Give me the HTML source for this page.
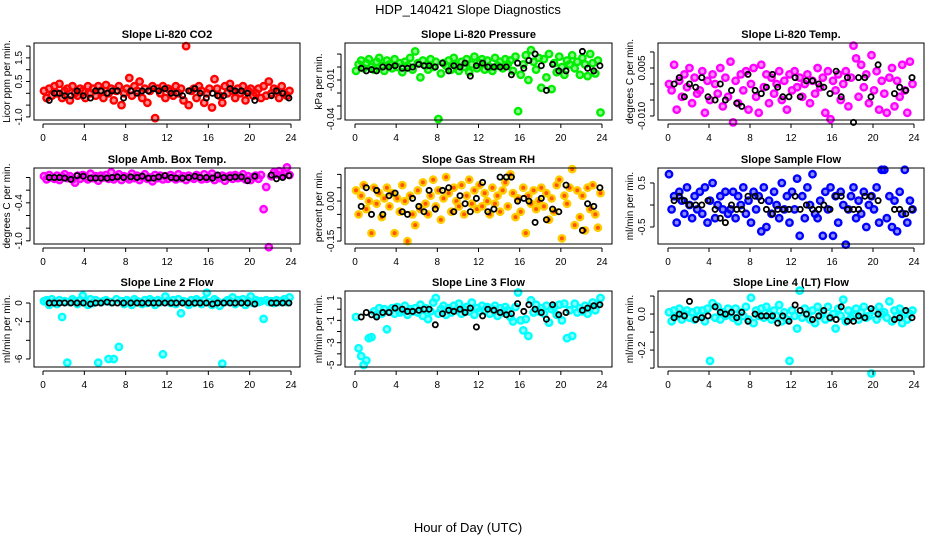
<!DOCTYPE html>
<html><head><meta charset="utf-8"><title>HDP_140421 Slope Diagnostics</title>
<style>
html,body{margin:0;padding:0;background:#fff;}
svg{display:block;font-family:"Liberation Sans",Arial,sans-serif;}
</style></head>
<body>
<svg id="chart" width="936" height="540" viewBox="0 0 936 540" xmlns="http://www.w3.org/2000/svg">
<rect x="0" y="0" width="936" height="540" fill="#fff"/>
<text x="468" y="14" text-anchor="middle" font-size="13">HDP_140421  Slope Diagnostics</text>
<text x="468" y="532" text-anchor="middle" font-size="13">Hour of Day (UTC)</text>
</svg>
<script>
// Shared measurement hours (colored series)
const hours = [0.1,0.35,0.6,0.85,1.1,1.35,1.6,1.85,2.1,2.35,2.6,2.85,
3.1,3.35,3.6,3.85,4.1,4.35,4.6,4.85,5.1,5.35,5.6,5.85,
6.1,6.35,6.6,6.85,7.1,7.35,7.6,7.85,8.1,8.35,8.6,8.85,
9.1,9.35,9.6,9.85,10.1,10.35,10.6,10.85,11.1,11.35,11.6,11.85,
12.1,12.35,12.6,12.85,13.1,13.35,13.6,13.85,14.1,14.35,14.6,14.85,
15.1,15.35,15.6,15.85,16.1,16.35,16.6,16.85,17.1,17.35,17.6,17.85,
18.1,18.35,18.6,18.85,19.1,19.35,19.6,19.85,20.1,20.35,20.6,20.85,
21.1,21.35,21.6,21.85,22.1,22.35,22.6,22.85,23.1,23.35,23.6,23.85];
// Hours of the black (hourly summary) series
const blackHours = [0.6,1.1,1.6,2.1,2.7,3.3,3.9,4.6,5.1,5.6,6.2,6.7,7.2,7.8,8.5,9.1,9.6,10.2,10.7,11.2,
11.8,12.4,12.9,13.5,14.1,14.7,15.2,15.8,16.4,16.9,17.5,18.1,18.6,19.2,19.8,20.5,22.1,22.6,23.2,23.8];
const xTicks = [0,4,8,12,16,20,24];

// Panel 1: Li-820 CO2 (ppm/min)
const co2Values = [0.1,-0.2,0.2,-0.1,0.3,0.0,0.4,-0.2,0.1,0.2,-0.3,0.3,
0.0,-0.1,0.2,0.1,-0.2,0.3,0.0,0.2,-0.1,0.3,0.1,-0.2,
0.35,0.0,0.2,-0.3,0.1,0.3,-0.5,0.0,0.2,0.65,-0.1,0.3,
0.1,0.5,-0.2,0.2,-0.4,0.1,0.3,-1.05,0.2,0.0,0.3,-0.2,
0.2,0.1,-0.1,0.3,0.0,0.2,-0.3,2.0,-0.5,0.1,0.2,-0.2,
0.3,0.1,-0.4,0.0,0.2,-0.6,0.6,0.2,-0.1,-0.4,0.3,0.0,
0.4,0.1,-0.2,0.2,0.0,0.3,-0.3,0.1,0.2,-0.1,0.0,0.2,
-0.2,0.3,-0.1,0.5,0.0,0.2,0.1,-0.2,0.3,0.0,-0.1,0.1];
const co2Black = [-0.3,0.0,0.0,-0.1,-0.1,0.1,-0.1,-0.2,0.1,0.1,0.0,0.1,0.1,-0.2,0.1,0.0,0.1,0.1,0.2,0.1,
0.2,0.0,0.0,-0.1,0.1,0.2,0.0,-0.2,0.0,-0.1,-0.1,0.2,0.1,0.1,0.0,-0.3,-0.1,0.1,0.0,-0.2];
const co2Ticks = [-1.0,-0.5,0,0.5,1.0,1.5,2.0];
const co2TickLabels = ["-1.0","","","0.5","","1.5",""];

// Panel 2: Li-820 Pressure (values in 0.001 kPa/min)
const pressUnit = 0.001;
const pressValues = [-3,2,5,-1,3,6,0,-2,4,7,1,-3,
5,2,-1,6,0,3,-4,4,1,7,-2,12,
3,-8,5,1,-2,6,0,4,-40,-5,3,1,
5,-2,7,1,-3,4,0,6,-4,2,8,-1,
3,6,-2,5,0,-3,7,1,4,-1,6,2,
5,-3,8,-34,-6,2,9,-10,13,4,-2,7,
-16,6,-8,10,-17,3,-4,8,0,-6,5,2,
9,-1,4,-6,7,2,-7,10,3,-5,5,-35];
const pressBlack = [-1,-3,-2,-3,0,0,1,-1,-1,0,2,1,1,0,3,-3,1,0,3,-7,
1,3,0,0,0,0,-6,3,-1,5,10,1,-18,2,-3,-3,12,-1,-3,1];
const pressTicks = [-0.04,-0.03,-0.02,-0.01,0,0.01];
const pressTickLabels = ["-0.04","","","-0.01","",""];

// Panel 3: Li-820 Temp (values in 0.001 C/min)
const tempUnit = 0.001;
const tempValues = [0,-2,6,-8,1,-4,3,-1,5,-6,2,-3,
-2,4,-9,1,-5,3,0,-3,5,-7,2,-4,
7,-12,1,-6,3,-2,4,-8,0,5,-4,-9,
6,-1,3,-6,2,-3,0,4,-5,1,-8,3,
-2,4,-1,2,-4,0,3,-6,1,-3,5,-1,
2,-9,4,-11,1,-2,3,-5,0,4,-7,2,
12,8,-4,6,-1,3,-6,9,-2,4,-8,1,
-3,-9,2,5,-7,1,-4,6,-2,-9,7,0];
const tempBlack = [0,2,-4,0,-1,2,-4,-5,0,-5,-2,-6,-7,3,-2,-3,-1,3,-1,-4,
-4,2,-4,1,1,0,-1,-3,4,-4,2,-12,2,2,-4,6,-3,-1,-2,2];
const tempTicks = [-0.010,-0.005,0,0.005,0.010];
const tempTickLabels = ["-0.010","","","0.005",""];

// Panel 4: Amb. Box Temp (values in 0.01 C/min)
const boxUnit = 0.01;
const boxValues = [2,-3,4,0,-2,3,-4,1,5,-1,2,-3,
-8,3,-2,4,0,-3,6,-1,2,-5,3,0,
4,-2,8,-3,1,5,-4,2,0,-3,6,-1,
3,-4,1,5,-2,0,-6,4,-1,3,-3,2,
-2,4,0,-3,5,-1,2,-4,3,0,-2,4,
1,-3,5,-2,0,6,-4,2,-1,3,-5,1,
3,-2,4,-1,0,5,-3,2,-4,1,3,-2,
4,-50,-15,-110,2,8,5,10,3,6,16,4];
const boxBlack = [0,0,0,-1,-3,3,2,-1,-1,-1,-1,0,1,0,1,0,2,-1,-1,1,
3,0,-1,-1,0,2,0,0,-1,4,0,0,1,1,-5,2,4,-2,0,3];
const boxTicks = [-1.0,-0.8,-0.6,-0.4,-0.2,0];
const boxTickLabels = ["-1.0","","","-0.4","",""];

// Panel 5: Gas Stream RH (values in 0.01 %/min)
const rhUnit = 0.01;
const rhValues = [4,-5,2,6,-3,0,-12,5,-1,3,-6,1,
5,-2,3,-12,1,-4,6,0,-15,2,-5,-9,
4,-3,7,-1,-5,2,8,-2,4,-7,1,9,
3,-4,5,0,-2,6,-5,2,8,-1,4,-3,
6,-2,3,0,-5,5,-1,2,-4,4,7,-2,
10,3,-6,1,-4,5,-12,2,-1,4,-3,0,
5,-2,3,-7,1,-4,6,8,-14,2,-1,5,
12,-9,4,-6,2,-11,5,-3,6,-5,-10,3];
const rhBlack = [-2,5,-5,4,-5,2,3,-4,-5,1,-2,-4,4,-3,4,5,-4,2,-1,-4,
1,7,-4,-3,9,9,9,0,1,0,-8,1,-7,-3,-4,6,-11,-1,-2,5];
const rhTicks = [-0.15,-0.10,-0.05,0,0.05,0.10];
const rhTickLabels = ["-0.15","","","0.00","",""];

// Panel 6: Sample Flow (values in 0.1 ml/min per min)
const sampleUnit = 0.1;
const sampleValues = [7,-1,2,-4,3,1,-2,4,0,-3,2,-1,
3,-2,4,-4,1,5,-3,0,2,-1,3,-2,
-1,3,-3,2,0,4,-2,1,-4,3,-1,2,
-6,4,-5,1,-2,3,0,-3,5,-1,2,-4,
3,-1,6,-7,2,-3,4,0,7,-2,-3,1,
-7,3,-1,4,-7,2,-4,3,0,-9,-1,2,
4,-3,1,-2,3,-5,0,2,-1,4,-4,8,
8,-3,2,-5,1,-6,3,-2,8,-4,1,-1];
const sampleBlack = [1,2,1,0,0,0,1,-1,-3,-4,0,-1,-1,2,2,1,-1,-2,-1,-1,
-1,2,-1,0,-1,-1,0,-1,2,2,-1,-1,-1,2,2,1,-1,-1,-2,-1];
const sampleTicks = [-0.5,0,0.5];
const sampleTickLabels = ["-0.5","","0.5"];

// Panel 7: Line 2 Flow
const line2Values = [0.2,0.3,-0.2,0.4,0.1,-0.1,0.3,-1.5,0.2,-6.4,0.1,0.4,
0.2,-0.1,0.3,0.8,0.1,-0.2,0.4,0.0,0.3,-6.4,0.1,0.2,
0.3,-6.0,0.1,-6.0,0.4,-4.7,0.2,-0.1,0.3,0.1,-0.2,0.4,
0.2,0.1,-0.1,0.3,0.0,0.4,0.2,-0.2,0.3,0.1,-5.5,0.7,
0.2,0.0,0.3,-0.1,0.4,-1.1,0.2,0.1,-0.2,0.3,0.0,0.4,
0.2,-0.1,0.3,1.1,0.1,-0.2,0.4,0.2,-0.3,-6.5,0.1,0.3,
0.2,0.6,-0.1,0.3,0.1,0.4,-0.2,0.2,0.7,0.0,0.3,0.1,
0.2,-1.7,0.3,0.1,0.2,0.0,0.3,0.1,0.2,0.4,0.1,0.6];
const line2Black = [0,0,0,0,0,0,0,-0.1,0,0,0.1,0,0,0,0,0,0,0,0,0,
0,0,0,0,0,0,0,0,-0.1,0,0,0,0,0,0,-0.1,0,0,0,0];
const line2Ticks = [-6,-4,-2,0];
const line2TickLabels = ["-6","","-2","0"];

// Panel 8: Line 3 Flow
const line3Values = [-0.7,-3.5,-4.2,-5.0,-4.6,-2.6,-2.5,-0.2,-0.5,0.1,-0.4,0.0,
-1.8,-0.2,0.1,-0.4,0.2,-0.3,-0.1,0.3,-0.5,0.0,-0.2,0.1,
-0.3,0.4,-0.6,0.1,-0.9,-0.2,0.6,1.0,-0.4,0.0,0.3,-0.5,
0.1,-0.3,0.3,-0.1,0.5,-0.4,0.0,0.2,-0.2,0.6,-0.5,0.1,
-0.2,0.3,-0.1,0.2,-0.4,0.0,0.3,-0.6,0.1,-0.3,0.2,-0.1,
-0.7,-1.1,0.2,1.5,-1.0,-1.9,-0.9,-2.4,0.8,-0.3,0.4,-0.2,
0.1,-0.4,0.3,-1.2,0.0,0.2,-0.5,0.4,-1.0,0.5,-2.6,-0.1,
-2.4,0.5,-0.3,0.1,-0.2,0.3,-0.4,0.2,0.6,-0.1,0.4,1.0];
const line3Black = [-0.7,-0.3,-0.5,-0.7,-0.3,-0.3,0.1,0.0,-0.2,-0.2,-0.1,0.0,0.0,-1.4,-0.4,-0.1,-0.2,0.0,-0.3,0.1,
-1.6,-0.6,0.0,-0.1,-0.3,-0.5,-0.4,0.5,-0.2,0.4,0.0,-0.3,-0.9,0.4,-0.5,-0.3,-0.1,0.1,0.3,0.4];
const line3Ticks = [-5,-4,-3,-2,-1,0,1];
const line3TickLabels = ["-5","","-3","","-1","","1"];

// Panel 9: Line 4 (LT) Flow (values in 0.01 ml/min per min)
const line4Unit = 0.01;
const line4Values = [1,-4,2,-1,3,-3,0,2,-2,1,-3,2,
-1,2,-4,3,-26,6,-2,4,-3,1,-1,3,
0,-2,3,-4,1,-1,4,-3,9,-5,2,-1,
3,-2,4,0,-3,2,-1,5,-4,1,-3,-26,
2,-1,-8,13,-2,3,0,-3,2,-5,4,-1,
1,-3,4,-2,0,-8,3,-1,8,-4,2,-2,
-1,3,-3,1,4,-2,-1,-33,2,-3,4,0,
1,-2,7,-4,2,-1,3,-5,1,-3,0,2];
const line4Black = [-2,0,-1,7,-3,-2,-1,4,1,0,1,-2,1,-4,0,-1,-1,-1,-5,-1,
-4,5,2,0,-3,-1,2,-2,-3,4,-4,-4,-1,-2,3,0,-3,-2,2,-2];
const line4Ticks = [-0.3,-0.2,-0.1,0,0.1];
const line4TickLabels = ["","-0.2","","0.0",""];

const NS = "http://www.w3.org/2000/svg";
const svg = document.getElementById("chart");
function mk(tag, attrs, parent){
  const e = document.createElementNS(NS, tag);
  for (const k in attrs) e.setAttribute(k, attrs[k]);
  (parent||svg).appendChild(e);
  return e;
}

const panels = [
 {key:"co2", title:"Slope Li-820 CO2", ylab:"Licor ppm per min.", col:"#ff0000", x0:34,x1:300,y0:43,y1:120, h0:43,h24:291, lo:-1.13,hi:2.13, vals:co2Values, blk:co2Black, unit:1, ticks:co2Ticks, tl:co2TickLabels, ylx:10, tlx:22},
 {key:"pressure", title:"Slope Li-820 Pressure", ylab:"kPa per min.", col:"#00ee00", x0:345,x1:612,y0:43,y1:120, h0:355,h24:602, lo:-0.0408,hi:0.0185, vals:pressValues, blk:pressBlack, unit:pressUnit, ticks:pressTicks, tl:pressTickLabels, ylx:322, tlx:334},
 {key:"temp", title:"Slope Li-820 Temp.", ylab:"degrees C per min.", col:"#ff00ff", x0:658,x1:924,y0:43,y1:120, h0:668,h24:914, lo:-0.01125,hi:0.0128, vals:tempValues, blk:tempBlack, unit:tempUnit, ticks:tempTicks, tl:tempTickLabels, ylx:633, tlx:645},
 {key:"box-temp", title:"Slope Amb. Box Temp.", ylab:"degrees C per min.", col:"#ff00ff", x0:34,x1:300,y0:168,y1:244, h0:43,h24:291, lo:-1.05,hi:0.15, vals:boxValues, blk:boxBlack, unit:boxUnit, ticks:boxTicks, tl:boxTickLabels, ylx:10, tlx:22},
 {key:"gas-rh", title:"Slope Gas Stream RH", ylab:"percent per min.", col:"#ffcc00", fill:"#ff5500", x0:345,x1:612,y0:168,y1:244, h0:355,h24:602, lo:-0.161,hi:0.124, vals:rhValues, blk:rhBlack, unit:rhUnit, ticks:rhTicks, tl:rhTickLabels, ylx:322, tlx:334},
 {key:"sample-flow", title:"Slope Sample Flow", ylab:"ml/min per min.", col:"#0000ff", x0:658,x1:924,y0:168,y1:244, h0:668,h24:914, lo:-0.886,hi:0.84, vals:sampleValues, blk:sampleBlack, unit:sampleUnit, ticks:sampleTicks, tl:sampleTickLabels, ylx:633, tlx:645},
 {key:"line2-flow", title:"Slope Line 2 Flow", ylab:"ml/min per min.", col:"#00ffff", x0:34,x1:300,y0:291,y1:367, h0:43,h24:291, lo:-6.86,hi:1.29, vals:line2Values, blk:line2Black, unit:1, ticks:line2Ticks, tl:line2TickLabels, ylx:10, tlx:22},
 {key:"line3-flow", title:"Slope Line 3 Flow", ylab:"ml/min per min.", col:"#00ffff", x0:345,x1:612,y0:291,y1:367, h0:355,h24:602, lo:-5.18,hi:1.63, vals:line3Values, blk:line3Black, unit:1, ticks:line3Ticks, tl:line3TickLabels, ylx:322, tlx:334},
 {key:"line4-flow", title:"Slope Line 4 (LT) Flow", ylab:"ml/min per min.", col:"#00ffff", x0:658,x1:924,y0:291,y1:367, h0:668,h24:914, lo:-0.294,hi:0.128, vals:line4Values, blk:line4Black, unit:line4Unit, ticks:line4Ticks, tl:line4TickLabels, ylx:633, tlx:645}
];

panels.forEach(p=>{
  const g = mk("g", {});
  
  
  const xs = h => p.h0 + (h/24)*(p.h24-p.h0);
  const ys = v => p.y1 - (v - p.lo)/(p.hi - p.lo)*(p.y1 - p.y0);

  const t = mk("text", {x:(p.x0+p.x1)/2, y:p.y0-5, "text-anchor":"middle", "font-size":"11", "font-weight":"bold"}, g);
  t.textContent = p.title;
  
  

  const pts = mk("g", {}, g);
  
  
  const n = Math.min(hours.length, p.vals.length);
  for (let i=0;i<n;i++){
    const c = mk("circle", {cx:xs(hours[i]).toFixed(1), cy:ys(p.vals[i]*p.unit).toFixed(1), r:3.2, fill:p.fill||p.col, "fill-opacity":p.fill?1:0.45, stroke:p.col, "stroke-width":2.4}, pts);
    
    
  }
  const bpts = mk("g", {}, g);
  
  
  const m = Math.min(blackHours.length, p.blk.length);
  for (let i=0;i<m;i++){
    const c = mk("circle", {cx:xs(blackHours[i]).toFixed(1), cy:ys(p.blk[i]*p.unit).toFixed(1), r:2.6, fill:"none", stroke:"#000", "stroke-width":1.8}, bpts);
    
    
  }

  const box = mk("rect", {x:p.x0, y:p.y0, width:p.x1-p.x0, height:p.y1-p.y0, fill:"none", stroke:"#000", "stroke-width":1}, g);
  
  

  const xa = mk("g", {}, g);
  
  
  mk("line", {x1:xs(0), x2:xs(24), y1:p.y1+4, y2:p.y1+4, stroke:"#000"}, xa);
  xTicks.forEach(v=>{
    mk("line", {x1:xs(v), x2:xs(v), y1:p.y1+4, y2:p.y1+8, stroke:"#000"}, xa);
    const l = mk("text", {x:xs(v), y:p.y1+21, "text-anchor":"middle", "font-size":"10"}, xa);
    l.textContent = v;
    
    
  });

  const ya = mk("g", {}, g);
  
  
  const ax = p.x0 - 4;
  mk("line", {x1:ax, x2:ax, y1:ys(p.ticks[0]), y2:ys(p.ticks[p.ticks.length-1]), stroke:"#000"}, ya);
  p.ticks.forEach((v,i)=>{
    const y = ys(v);
    mk("line", {x1:ax-4, x2:ax, y1:y, y2:y, stroke:"#000"}, ya);
    if (p.tl[i]){
      const l = mk("text", {x:p.tlx, y:y, "text-anchor":"middle", "font-size":"10", transform:`rotate(-90 ${p.tlx} ${y})`}, ya);
      l.textContent = p.tl[i];
      
      
    }
  });
  const cy = (p.y0+p.y1)/2;
  const yl = mk("text", {x:p.ylx, y:cy, "text-anchor":"middle", "font-size":"10", transform:`rotate(-90 ${p.ylx} ${cy})`}, g);
  yl.textContent = p.ylab;
  
  
});
</script>
</body></html>
